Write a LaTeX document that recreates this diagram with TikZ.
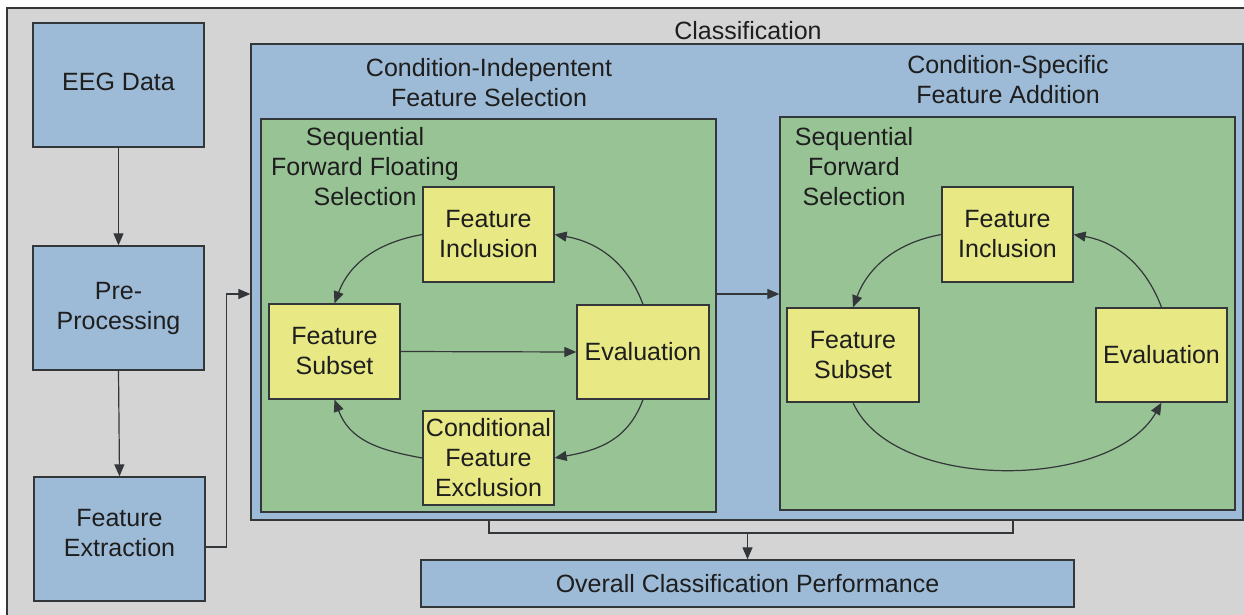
\documentclass[tikz,border=0pt]{standalone}
\usepackage{fontspec}
\setmainfont{Liberation Sans}
\usetikzlibrary{arrows.meta}

\definecolor{bggray}{RGB}{212,212,212}
\definecolor{boxblue}{RGB}{157,187,214}
\definecolor{framegreen}{RGB}{152,195,149}
\definecolor{boxyellow}{RGB}{232,232,133}
\definecolor{edgecol}{RGB}{52,55,58}
\definecolor{txt}{RGB}{30,30,30}

\tikzset{
  every node/.style={font=\fontsize{25}{30}\selectfont, text=txt},
  outline/.style={draw=edgecol, line width=1.3pt},
  bluebox/.style={outline, fill=boxblue, align=center, inner sep=0pt},
  ybox/.style={outline, fill=boxyellow, align=center, inner sep=0pt},
  greenframe/.style={outline, fill=framegreen, inner sep=0pt},
  lbl/.style={align=center, inner sep=0pt},
  link/.style={draw=edgecol, line width=1.2pt},
  arr/.style={link, -{Triangle[length=12pt,width=10pt]}},
}

\begin{document}
\begin{tikzpicture}[x=1pt,y=-1pt]
\useasboundingbox (0,0) rectangle (1244,615);
\clip (0,0) rectangle (1244,615);
\fill[white] (0,0) rectangle (1244,615);
\fill[bggray] (7,8) rectangle (1250,620);
\draw[outline] (1250,8) -- (7,8) -- (7,620);

% pipeline on the left
\node[bluebox, minimum width=171pt, minimum height=124pt, text depth=6pt] (eeg) at (118.5,85) {EEG Data};
\node[bluebox, minimum width=171pt, minimum height=124pt] (pre) at (118.5,308) {Pre-\\Processing};
\node[bluebox, minimum width=171pt, minimum height=124pt, text depth=12pt] (fe) at (119.5,539) {Feature\\Extraction};

% classification stage
\node[lbl] (clslbl) at (748,31) {Classification};
\node[bluebox, minimum width=992pt, minimum height=476pt] (cls) at (747,282) {};

\node[lbl] (indep) at (489,83) {Condition-Indepentent\\Feature Selection};
\node[lbl] (spec) at (1008,80) {Condition-Specific\\Feature Addition};

\node[greenframe, minimum width=455pt, minimum height=393pt] (lgreen) at (488.5,315.5) {};
\node[greenframe, minimum width=455pt, minimum height=393pt] (rgreen) at (1007.5,313.5) {};

\node[lbl] (sffs) at (365,167) {Sequential\\Forward Floating\\Selection};
\node[lbl] (sfs) at (854,167) {Sequential\\Forward\\Selection};

% floating selection loop
\node[ybox, minimum width=131pt, minimum height=95pt] (lfi) at (488.5,234.5) {Feature\\Inclusion};
\node[ybox, minimum width=131pt, minimum height=95pt] (lfs) at (334.5,351.5) {Feature\\Subset};
\node[ybox, minimum width=132pt, minimum height=94pt] (lev) at (643,352) {Evaluation};
\node[ybox, minimum width=131pt, minimum height=94pt] (lcfe) at (488.5,458) {Conditional\\Feature\\Exclusion};

\draw[arr] (lfi.west) .. controls +(-45,8) and +(15,-40) .. (lfs.north);
\draw[arr] (lev.north) .. controls +(-15,-40) and +(45,8) .. (lfi.east);
\draw[arr] (lev.south) .. controls +(-15,40) and +(45,-8) .. (lcfe.east);
\draw[arr] (lcfe.west) .. controls +(-45,-8) and +(15,40) .. (lfs.south);
\draw[arr] (lfs.east) -- (lev.west);

% forward selection loop
\node[ybox, minimum width=131pt, minimum height=95pt] (rfi) at (1007.5,234.5) {Feature\\Inclusion};
\node[ybox, minimum width=132pt, minimum height=94pt] (rfs) at (853,355) {Feature\\Subset};
\node[ybox, minimum width=131pt, minimum height=94pt] (rev) at (1161.5,355) {Evaluation};

\draw[arr] (rfi.west) .. controls +(-45,8) and +(15,-40) .. (rfs.north);
\draw[arr] (rev.north) .. controls +(-15,-40) and +(45,8) .. (rfi.east);
\draw[arr] (rfs.south) .. controls +(40,90) and +(-50,88) .. (rev.south);

% result
\node[bluebox, minimum width=653pt, minimum height=47pt] (overall) at (747.5,583.5) {Overall Classification Performance};

% connectors
\draw[arr] (eeg.south) -- (pre.north);
\draw[arr] (pre.south) -- (fe.north);
\coordinate (fout) at ([yshift=-8pt]fe.east);
\coordinate (cin) at ([yshift=-12pt]cls.west);
\draw[arr] (fout) -- ++(21,0) |- (cin);

\coordinate (gl) at ([yshift=21.5pt]lgreen.east);
\draw[arr] (gl) -- (gl -| rgreen.west);

\coordinate (bl) at (489,533);
\coordinate (br) at (1013,533);
\draw[link] (cls.south -| bl) -- (bl) -- (br) -- (cls.south -| br);
\draw[arr] (overall.north |- bl) -- (overall.north);
\end{tikzpicture}
\end{document}
